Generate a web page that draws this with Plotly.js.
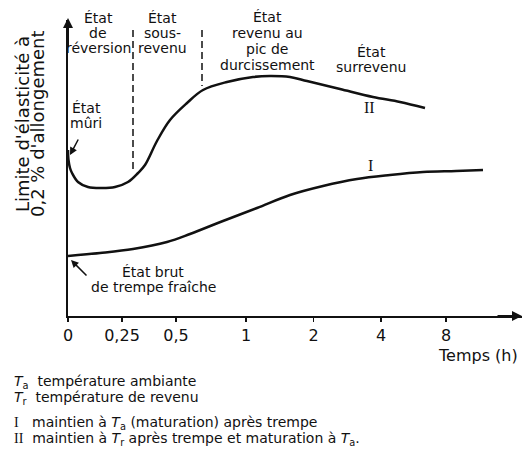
<!DOCTYPE html>
<html>
<head>
<meta charset="utf-8">
<script src="https://cdn.plot.ly/plotly-3.0.1.min.js"></script>
<style>
html,body{margin:0;padding:0;background:#fff;}
#chart{width:523px;height:471px;}
</style>
</head>
<body>
<div id="chart"></div>
<script>
// ---- data (schematic axis units) ----
const TICK_POS  = [0, 1, 2, 3.3, 4.55, 5.8, 7.0];
const TICK_TEXT = ['0', '0,25', '0,5', '1', '2', '4', '8'];

// Curve I : maintien à Ta (maturation) après trempe
const CURVE_I_X = [0, 0.593, 1.204, 1.833, 2.259, 2.870, 3.500, 4.111, 4.722, 5.352, 5.963, 6.574, 7.185, 7.685];
const CURVE_I_Y = [60, 63, 67, 74, 82, 95, 108, 121, 130, 137, 141, 144, 145, 146];

// Curve II : maintien à Tr après trempe et maturation à Ta
const CURVE_II_X = [0, 0.009, 0.037, 0.074, 0.185, 0.370, 0.630, 0.870, 1.111, 1.296, 1.426, 1.648, 1.889, 2.204, 2.500, 2.944, 3.426, 3.741, 4.111, 4.426, 5.037, 5.648, 6.148, 6.611];
const CURVE_II_Y = [166, 156, 148, 143, 134, 129, 128, 129, 134, 143, 151, 175, 196, 213, 226, 234, 239, 240, 239, 235, 227, 219, 214, 208];

const STATE_LABELS = [
  ['État', 'de', 'réversion'],
  ['État', 'sous-', 'revenu'],
  ['État', 'revenu au', 'pic de', 'durcissement'],
  ['État', 'surrevenu'],
  ['État', 'mûri'],
  ['État brut', 'de trempe fraîche']
];
const LEGEND_LINES = [
  '<i>T</i><sub>a</sub>&nbsp;&nbsp;température ambiante',
  '<i>T</i><sub>r</sub>&nbsp;&nbsp;température de revenu',
  '<span style="font-family:Liberation Serif">I</span>&nbsp;&nbsp;&nbsp;maintien à <i>T</i><sub>a</sub> (maturation) après trempe',
  '<span style="font-family:Liberation Serif">II</span>&nbsp;&nbsp;maintien à <i>T</i><sub>r</sub> après trempe et maturation à <i>T</i><sub>a</sub>.'
];
const Y_TITLE = ["Limite d'élasticité à", "0,2 % d'allongement"];
const X_TITLE = 'Temps (h)';

// ---- layout helpers (pixel -> paper) ----
const L = 68, T = 20, W = 454, H = 296;
const px = x => (x - L) / W;
const py = y => (T + H - y) / H;
const FONT = 'DejaVu Sans';
const INK = '#111';

const ann = [];
function label(text, x, y, size, opts) {
  ann.push(Object.assign({
    xref: 'paper', yref: 'paper', x: px(x), y: py(y), text: text, showarrow: false,
    xanchor: 'center', yanchor: 'middle', borderpad: 0,
    font: {family: FONT, size: size, color: INK}
  }, opts || {}));
}
function block(lines, cx, ys, size) {
  lines.forEach((t, i) => label(t, cx, ys[i], size));
}
block(STATE_LABELS[0], 98, [18, 33, 48], 14);
block(STATE_LABELS[1], 162, [18, 33, 48], 14);
block(STATE_LABELS[2], 267, [17, 33, 49, 65], 14);
block(STATE_LABELS[3], 371, [52, 67], 14);
block(STATE_LABELS[4], 86, [108, 123], 14);
block(STATE_LABELS[5], 153, [272, 287], 14);

// curve labels
label('II', 369, 107, 15, {font: {family: 'Liberation Serif', size: 16, color: INK}});
label('I', 370, 165, 15, {font: {family: 'Liberation Serif', size: 16, color: INK}});

// y title (two rotated lines)
label(Y_TITLE[0], 23, 124, 18, {textangle: -90});
label(Y_TITLE[1], 38, 124, 18, {textangle: -90});

// x title
label(X_TITLE, 437, 355, 16, {xanchor: 'left'});

// legend lines
[382, 398, 423, 439].forEach((y, i) => label(LEGEND_LINES[i], 13, y, 14, {xanchor: 'left'}));

// pointer arrows
function arrow(x, y, ax, ay, w) {
  ann.push({xref: 'paper', yref: 'paper', x: px(x), y: py(y), ax: ax, ay: ay, text: '',
    showarrow: true, arrowhead: 2, arrowsize: 1, arrowwidth: w, arrowcolor: INK});
}
arrow(70, 155, 9, -17, 1.5);
arrow(71, 260, 17, 17, 1.5);
// axis arrows
arrow(68, 18, 0, 30, 2);
arrow(526, 316, -30, 0, 2);

const shapes = [
  {type: 'line', xref: 'paper', yref: 'paper', x0: px(133), x1: px(133), y0: py(30), y1: py(172),
   line: {color: INK, width: 1.5, dash: '7px,4px'}},
  {type: 'line', xref: 'paper', yref: 'paper', x0: px(202), x1: px(202), y0: py(30), y1: py(86),
   line: {color: INK, width: 1.5, dash: '7px,4px'}}
];

const traces = [
  {x: CURVE_I_X, y: CURVE_I_Y, mode: 'lines', line: {color: INK, width: 2.5, shape: 'spline', smoothing: 1}, name: 'I', hoverinfo: 'skip'},
  {x: CURVE_II_X, y: CURVE_II_Y, mode: 'lines', line: {color: INK, width: 2.5, shape: 'spline', smoothing: 1}, name: 'II', hoverinfo: 'skip'}
];

const layout = {
  width: 523, height: 471,
  margin: {l: L, r: 523 - L - W, t: T, b: 471 - T - H, pad: 0},
  paper_bgcolor: '#fff', plot_bgcolor: '#fff',
  showlegend: false,
  xaxis: {range: [0, W / 54], tickmode: 'array', tickvals: TICK_POS, ticktext: TICK_TEXT,
    showgrid: false, zeroline: false, showline: true, linecolor: INK, linewidth: 2,
    ticks: 'outside', ticklen: 4, tickwidth: 1.5, tickcolor: INK,
    tickfont: {family: FONT, size: 16, color: INK}, fixedrange: true},
  yaxis: {range: [0, H], showgrid: false, zeroline: false, showline: true, linecolor: INK, linewidth: 2,
    showticklabels: false, ticks: '', fixedrange: true},
  annotations: ann,
  shapes: shapes
};

Plotly.newPlot('chart', traces, layout, {displayModeBar: false, staticPlot: true});
</script>
</body>
</html>
